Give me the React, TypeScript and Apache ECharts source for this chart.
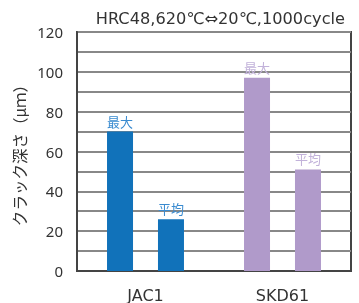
import React, { useEffect, useRef } from "react";
import * as echarts from "echarts";

const categories = ["JAC1", "SKD61"];
const maxValues = [70, 97];
const avgValues = [26, 51];
const maxLabel = "最大";
const avgLabel = "平均";
const barColors = ["#1172BA", "#B09ACA"];
const labelColors = ["#3A8BD0", "#C2B2DA"];
const title = "HRC48,620℃⇔20℃,1000cycle";
const yName = "クラック深さ（μｍ）";

const WIDE = "'DejaVu Sans', 'Noto Sans CJK JP', sans-serif";
const FONT = "'Noto Sans', 'Noto Sans CJK JP', sans-serif";
const CJK = "'Noto Sans CJK JP', sans-serif";

export default function App() {
  const ref = useRef<HTMLDivElement>(null);
  useEffect(() => {
    if (!ref.current) return;
    const chart = echarts.init(ref.current, undefined, { renderer: "svg" });
    const mk = (vals: number[], lab: string) =>
      vals.map((v, i) => ({
        value: v,
        itemStyle: { color: barColors[i] },
        label: { show: true, position: "top", distance: 4, formatter: lab, color: labelColors[i], fontSize: 13, fontFamily: CJK },
      }));
    chart.setOption({
      animation: false,
      title: {
        text: title,
        right: 9,
        top: 5,
        textStyle: { fontSize: 16.2, fontWeight: "normal", color: "#333", fontFamily: WIDE },
      },
      grid: {
        left: 77,
        right: 8,
        top: 32,
        bottom: 31,
        show: true,
        borderColor: "#444",
        borderWidth: 2,
        backgroundColor: "#fff",
      },
      xAxis: {
        type: "category",
        data: categories,
        axisTick: { show: false },
        axisLine: { show: true, lineStyle: { color: "#444", width: 2 } },
        axisLabel: { fontSize: 16, color: "#333", margin: 16, fontFamily: WIDE },
      },
      yAxis: {
        type: "value",
        min: 0,
        max: 120,
        interval: 10,
        name: yName,
        nameLocation: "middle",
        nameGap: 43,
        nameTextStyle: { fontSize: 15.5, color: "#333", fontFamily: CJK },
        axisLine: { show: true, lineStyle: { color: "#444", width: 2 } },
        axisTick: { show: false },
        axisLabel: {
          fontSize: 15,
          color: "#333",
          margin: 14,
          fontFamily: FONT,
          formatter: (v: number) => (v % 20 === 0 ? String(v) : ""),
        },
        splitLine: { show: true, lineStyle: { color: "#888", width: 2 } },
      },
      series: [
        { type: "bar", data: mk(maxValues, maxLabel), barWidth: 26, barGap: "96%" },
        { type: "bar", data: mk(avgValues, avgLabel), barWidth: 26 },
      ],
    });
    return () => chart.dispose();
  }, []);
  return <div ref={ref} style={{ position: "fixed", left: 0, top: 0, width: 359, height: 303 }} />;
}
